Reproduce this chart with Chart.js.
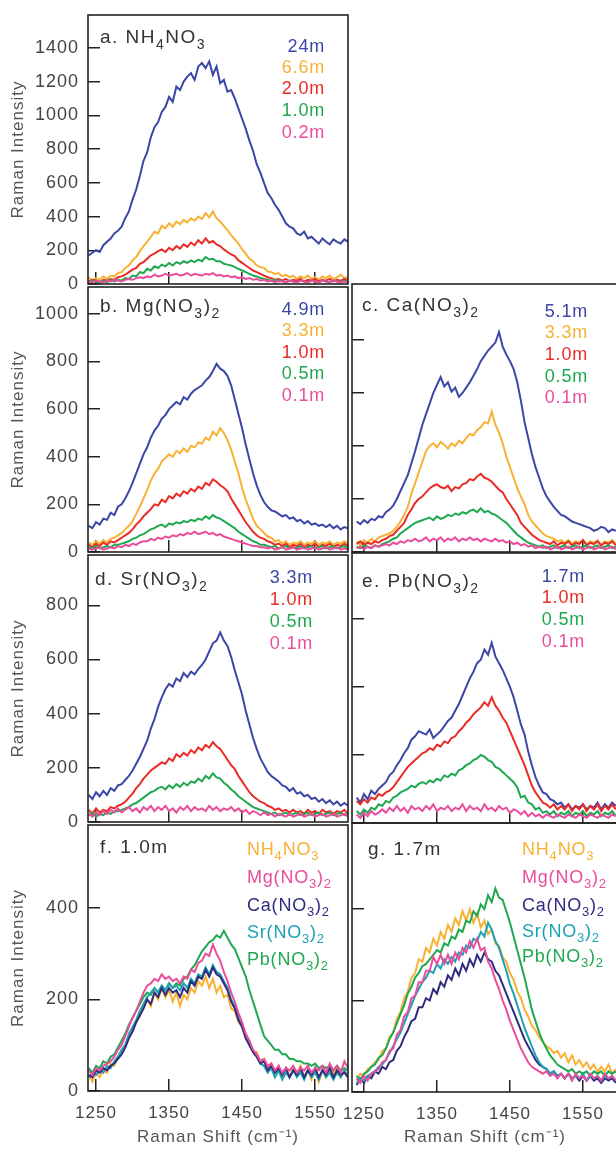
<!DOCTYPE html>
<html>
<head>
<meta charset="utf-8">
<title>Raman spectra of nitrate solutions</title>
<script src="https://cdn.jsdelivr.net/npm/chart.js@4.4.1/dist/chart.umd.min.js"></script>
<style>
  html, body { margin: 0; padding: 0; background: #fff; overflow: hidden; }
  body { width: 616px; height: 1149px; position: relative; }
  canvas { position: absolute; }
</style>
</head>
<body>
<script>
// Raman shift (cm-1) of every sample point
const shift = [1240,1245,1250,1255,1260,1265,1270,1275,1280,1285,1290,1295,1300,1305,1310,1315,1320,1325,1330,1335,
  1340,1345,1350,1355,1360,1365,1370,1375,1380,1385,1390,1395,1400,1405,1410,1415,1420,1425,1430,1435,
  1440,1445,1450,1455,1460,1465,1470,1475,1480,1485,1490,1495,1500,1505,1510,1515,1520,1525,1530,1535,
  1540,1545,1550,1555,1560,1565,1570,1575,1580,1585,1590,1595];

const xTicks = [1250, 1350, 1450, 1550];

// a. NH4NO3
const concA = ['24m', '6.6m', '2.0m', '1.0m', '0.2m'];
const nh4_24 = [170,185,200,190,230,250,270,300,315,340,390,430,500,560,640,730,780,870,930,960,
  1020,1050,1110,1080,1170,1150,1200,1230,1250,1210,1290,1310,1280,1320,1240,1290,1190,1210,1140,1150,
  1100,1040,980,920,850,790,710,660,600,540,510,470,440,400,360,340,330,300,290,310,
  270,280,260,240,270,250,235,265,250,240,265,250];
const nh4_66 = [40,20,35,25,45,30,50,45,65,70,95,110,140,160,195,225,250,280,310,300,
  345,330,360,340,370,355,380,365,390,375,400,385,420,395,430,390,370,345,320,290,
  265,240,205,180,150,135,110,100,95,75,70,60,65,45,55,40,50,30,45,35,
  50,30,40,25,45,35,50,30,40,55,35,40];
const nh4_20 = [15,25,20,10,25,20,30,25,40,45,55,70,85,95,120,130,150,170,180,195,
  205,190,215,200,225,210,235,220,245,230,260,240,270,245,255,235,225,205,190,175,
  165,140,125,110,95,80,70,60,50,40,35,25,30,20,30,15,25,20,30,15,
  25,20,30,15,25,20,30,15,25,20,30,20];
const nh4_10 = [10,20,15,5,20,10,25,15,25,20,35,30,50,45,70,65,90,80,105,95,
  115,105,125,110,130,120,135,125,140,130,145,135,160,145,150,135,135,120,115,110,
  100,90,80,70,60,50,45,35,30,25,20,25,15,20,10,20,15,10,20,15,
  10,20,15,10,20,15,10,20,15,10,20,15];
const nh4_02 = [15,10,20,15,10,20,15,25,20,15,25,30,25,35,40,35,45,40,55,45,
  50,60,50,55,60,50,55,65,50,60,55,50,60,55,65,50,55,45,50,40,
  45,35,40,30,35,25,30,20,25,15,20,10,20,15,10,20,15,10,20,15,
  10,20,15,10,20,15,10,20,15,10,15,10];

// b. Mg(NO3)2
const concB = ['4.9m', '3.3m', '1.0m', '0.5m', '0.1m'];
const mg_49 = [110,100,125,115,140,135,165,155,190,200,225,255,290,330,370,410,440,480,510,530,
  560,575,600,615,630,620,650,640,665,680,690,700,720,735,760,790,770,760,740,700,
  640,580,520,450,390,330,280,240,210,190,175,170,160,150,155,140,145,130,135,120,
  130,115,120,110,115,105,115,100,110,95,105,100];
const mg_33 = [40,30,45,35,50,40,55,60,70,80,95,110,130,160,190,225,260,300,330,350,
  380,395,410,400,425,415,435,420,445,440,460,455,480,470,505,490,520,500,470,430,
  380,330,270,220,180,140,110,95,80,65,60,45,50,35,45,30,40,35,45,30,
  40,35,45,30,40,35,45,30,40,35,45,35];
const mg_10 = [30,20,35,25,40,30,45,40,50,60,70,80,95,115,130,150,165,180,200,195,
  220,210,235,225,245,235,255,245,265,255,275,265,290,280,305,295,280,270,255,225,
  200,175,150,125,105,85,70,60,55,45,40,30,35,25,35,20,30,25,35,20,
  30,25,35,20,30,25,35,20,30,25,35,25];
const mg_05 = [20,15,25,15,20,25,20,30,30,35,40,45,55,60,70,75,85,95,100,110,
  115,105,120,115,125,120,130,125,135,130,140,135,150,140,155,145,140,130,120,110,
  100,85,75,65,55,45,40,30,30,25,20,25,15,20,25,15,20,15,25,15,
  20,25,15,20,25,15,20,25,15,20,25,15];
const mg_01 = [15,10,15,20,10,15,20,15,25,20,30,25,35,30,40,45,45,55,50,60,
  55,65,60,70,65,75,70,80,75,85,75,80,85,75,80,70,75,65,60,55,
  50,45,40,35,30,25,25,20,20,15,20,10,15,20,10,15,20,10,15,20,
  10,15,20,10,15,20,10,15,20,10,15,10];

// c. Ca(NO3)2
const concC = ['5.1m', '3.3m', '1.0m', '0.5m', '0.1m'];
const ca_51 = [115,105,120,110,125,120,135,130,150,160,175,200,230,260,290,335,380,430,480,520,
  560,600,630,660,625,640,605,620,585,600,620,640,665,690,720,740,760,775,790,830,
  775,745,720,690,640,570,490,430,370,320,280,240,210,190,170,155,140,135,125,115,
  110,105,100,95,90,80,85,95,90,75,85,80];
const ca_33 = [40,25,45,35,50,40,55,60,65,70,80,95,115,140,170,220,260,300,340,380,
  400,410,395,415,405,390,410,400,420,410,430,445,440,460,470,490,485,530,480,450,
  410,360,320,280,240,210,180,140,115,100,85,70,60,55,50,40,45,35,45,30,
  40,35,45,30,40,35,45,25,40,35,45,30];
const ca_10 = [30,40,25,35,30,40,35,45,50,60,65,80,95,110,140,160,185,200,210,225,
  240,250,255,245,240,250,230,245,240,255,260,275,270,285,295,280,275,265,250,235,
  225,200,180,160,140,110,95,80,65,55,45,40,35,30,40,25,35,30,40,25,
  35,30,45,25,35,30,40,25,35,30,40,25];
const ca_05 = [20,15,25,20,15,25,20,30,35,40,50,55,70,80,90,100,110,115,120,125,
  130,120,135,125,130,140,135,145,140,150,145,155,160,150,165,150,155,145,140,130,
  120,110,95,80,65,55,45,35,30,25,20,25,15,20,25,15,20,25,15,20,
  25,15,20,25,15,20,25,15,20,25,15,20];
const ca_01 = [15,20,10,20,15,25,20,25,30,25,35,30,40,35,45,40,50,40,45,55,
  40,50,45,55,40,50,45,55,40,50,45,55,45,50,40,50,45,40,50,40,
  45,35,40,30,35,25,30,20,25,15,20,15,20,10,15,20,10,15,20,10,
  15,20,10,15,20,10,15,20,10,15,20,10];

// d. Sr(NO3)2
const concD = ['3.3m', '1.0m', '0.5m', '0.1m'];
const sr_33 = [100,85,110,95,115,100,125,115,135,140,155,170,190,215,240,270,300,345,380,425,
  460,490,510,500,530,520,550,535,555,545,565,580,600,630,660,670,700,670,650,610,
  560,515,470,410,360,310,270,235,210,185,170,160,150,135,130,115,125,105,110,95,
  100,85,90,75,85,70,80,65,75,60,70,60];
const sr_10 = [45,30,50,35,45,40,55,50,60,65,75,90,105,125,140,160,175,190,200,210,
  220,215,235,225,250,240,255,245,265,255,275,265,285,275,295,280,270,250,230,210,
  195,170,150,130,110,95,85,75,70,60,55,45,50,40,45,35,45,35,40,30,
  45,35,40,30,45,35,40,30,40,35,45,30];
const sr_05 = [25,35,20,30,25,35,30,40,40,45,50,55,65,70,80,90,100,110,115,125,
  130,120,135,125,140,130,145,135,150,145,160,150,170,160,180,165,160,145,135,120,
  110,95,85,75,65,55,50,45,40,35,30,35,25,30,35,25,30,35,25,30,
  35,25,30,35,25,30,35,25,30,35,25,30];
const sr_01 = [30,20,35,25,40,30,45,35,50,35,45,55,40,50,35,55,45,60,40,55,
  45,60,40,50,35,55,45,60,40,55,45,50,40,60,45,55,40,50,45,55,
  40,50,35,45,30,40,35,25,35,25,30,20,30,25,20,30,20,25,30,20,
  25,30,20,25,30,20,25,30,20,25,30,20];

// e. Pb(NO3)2
const concE = ['1.7m', '1.0m', '0.5m', '0.1m'];
const pb_17 = [75,60,85,70,95,85,100,110,120,140,150,170,185,205,220,245,255,270,265,260,
  275,250,260,270,285,300,310,330,350,375,400,425,445,470,480,510,495,530,490,470,
  450,425,400,370,330,290,260,210,170,135,110,90,85,70,65,55,60,45,55,40,
  50,45,55,40,50,45,60,40,55,45,60,50];
const pb_10 = [65,55,70,60,75,70,85,80,90,95,105,120,135,150,165,175,185,195,205,210,
  220,215,230,225,240,235,250,255,270,280,295,305,320,330,340,355,345,370,345,330,
  310,295,270,245,220,195,170,140,110,90,75,60,55,45,55,40,50,40,55,35,
  50,40,55,35,50,40,55,35,50,40,55,40];
const pb_05 = [35,25,40,30,45,40,55,50,65,60,75,80,90,95,100,110,105,115,120,115,
  125,120,130,125,140,135,145,140,155,160,170,175,185,190,200,195,185,180,165,160,
  150,140,130,120,105,75,80,60,55,40,45,30,35,25,35,20,30,25,35,20,
  30,25,35,20,30,25,35,20,30,25,35,20];
const pb_01 = [25,15,30,20,35,25,30,40,30,45,35,50,35,45,30,50,40,45,35,50,
  40,55,35,45,40,50,35,45,40,55,35,50,40,45,35,55,40,45,35,50,
  40,45,30,40,35,25,35,20,30,20,25,15,25,20,15,25,20,15,25,20,
  15,25,20,15,25,20,15,25,20,15,25,20];

// f. 1.0m and g. 1.7m, all salts
const salts = ['NH_4NO_3', 'Mg(NO_3)_2', 'Ca(NO_3)_2', 'Sr(NO_3)_2', 'Pb(NO_3)_2'];
const f_nh4 = [35,20,40,30,45,40,60,55,75,85,100,120,135,150,165,185,200,185,215,200,
  225,205,220,195,215,185,210,200,225,215,240,230,250,225,245,215,230,205,210,180,
  175,150,140,115,110,85,85,65,70,50,60,40,55,35,50,30,50,35,55,30,
  45,25,50,20,45,30,55,35,50,30,45,35];
const f_mg = [45,35,50,45,55,60,65,75,90,100,120,140,160,175,195,215,230,235,245,240,
  255,245,250,240,245,235,250,245,265,260,280,285,300,295,320,300,285,260,240,215,
  195,170,150,125,110,90,80,65,70,55,60,45,55,40,50,45,55,40,50,45,
  55,40,50,45,55,40,60,45,55,40,65,50];
const f_ca = [35,30,45,40,50,45,55,60,70,80,95,115,130,150,165,180,200,190,215,205,
  225,210,225,215,220,205,225,215,240,230,250,245,265,250,270,255,250,235,220,195,
  180,155,140,115,100,85,75,60,65,45,55,40,50,35,50,30,45,35,50,30,
  45,35,50,30,45,35,50,30,45,35,40,30];
const f_sr = [30,40,35,45,40,55,50,65,75,90,100,125,140,155,175,190,205,215,225,215,
  230,220,235,225,230,220,235,225,245,235,255,250,270,255,275,260,255,240,225,200,
  185,160,140,120,105,85,75,60,55,40,50,30,45,25,40,30,45,30,40,25,
  45,30,40,25,45,30,40,25,40,30,45,30];
const f_pb = [50,40,55,50,65,60,75,80,95,110,125,145,160,175,190,205,215,210,225,215,
  230,220,235,225,235,230,245,250,265,275,290,305,315,325,330,340,335,350,335,320,
  310,290,270,250,220,195,170,145,120,110,100,90,90,80,80,70,70,65,65,60,
  60,55,60,50,55,50,55,45,55,45,50,45];
const g_nh4 = [25,40,35,50,55,65,70,90,95,120,130,160,175,205,220,250,260,290,285,315,
  305,335,320,350,335,365,350,380,365,395,375,400,370,390,360,375,345,355,325,320,
  295,285,260,245,220,205,180,165,145,135,120,110,100,95,85,90,75,85,65,80,
  60,70,55,65,50,60,45,55,45,60,40,50];
const g_mg = [30,20,35,25,40,45,50,65,70,90,95,125,135,165,175,205,210,240,240,265,
  265,295,280,300,280,300,280,305,290,315,305,330,315,335,310,315,285,270,245,225,
  200,180,155,135,115,95,80,65,55,50,45,40,45,35,40,30,40,30,40,25,
  40,30,35,25,40,30,35,25,40,30,35,25];
const g_ca = [15,30,20,35,30,45,40,55,50,65,70,90,100,120,135,155,160,185,185,205,
  200,225,215,240,230,255,245,270,255,280,265,290,275,300,285,305,290,285,265,255,
  235,215,195,175,155,135,115,100,85,70,60,55,50,40,45,35,40,30,40,30,
  35,25,35,25,35,25,30,20,30,25,30,20];
const g_sr = [20,30,25,35,40,45,55,60,70,85,100,115,130,150,170,190,210,225,240,250,
  265,260,280,270,290,280,295,285,305,300,320,315,335,330,350,340,370,355,330,315,
  290,265,235,215,190,165,140,120,100,80,65,55,50,40,45,35,40,30,40,30,
  35,30,40,25,35,30,35,25,35,30,35,25];
const g_pb = [35,25,40,45,55,60,75,80,95,115,130,150,170,190,215,230,250,260,275,280,
  290,300,310,305,325,320,340,335,355,350,375,370,395,385,410,400,430,415,445,425,
  420,395,370,340,310,280,250,215,180,155,130,110,95,80,70,60,55,50,45,50,
  40,45,40,45,35,45,40,45,35,45,40,45];

const blue = '#3b46a6', orange = '#f8b133', red = '#ea2b26', green = '#1fa84f',
      magenta = '#ea4d9b', navy = '#2f2c80', teal = '#1ca2b4';
const FONT = '"Liberation Sans", Arial, sans-serif';
Chart.defaults.font.family = FONT;

function drawRich(ctx, text, x, y, align, color, size, spacing) {
  ctx.letterSpacing = spacing + 'px';
  const parts = text.split(/(_\d)/).filter(t => t.length);
  const big = size + 'px ' + FONT;
  const small = Math.round(size * 0.72) + 'px ' + FONT;
  let total = 0;
  parts.forEach(t => {
    ctx.font = t[0] === '_' ? small : big;
    total += ctx.measureText(t[0] === '_' ? t.slice(1) : t).width;
  });
  let cx = align === 'right' ? x - total : x;
  ctx.fillStyle = color;
  ctx.textBaseline = 'middle';
  ctx.textAlign = 'left';
  parts.forEach(t => {
    const sub = t[0] === '_';
    const s = sub ? t.slice(1) : t;
    ctx.font = sub ? small : big;
    ctx.fillText(s, cx, sub ? y + size * 0.38 : y);
    cx += ctx.measureText(s).width;
  });
}

// frame round the plot + panel label + coloured legend text
const panelText = {
  id: 'panelText',
  beforeDraw(chart) {
    chart.ctx.letterSpacing = '1px';
  },
  afterDraw(chart, args, o) {
    const ctx = chart.ctx, a = chart.chartArea;
    ctx.save();
    ctx.strokeStyle = '#222';
    ctx.lineWidth = 1.6;
    ctx.strokeRect(a.left, a.top, a.right - a.left, a.bottom - a.top);
    drawRich(ctx, o.title, o.tx - o.left, o.ty - o.top, 'left', '#333', 19, 1.5);
    o.labels.forEach((lab, i) => {
      drawRich(ctx, lab, o.lx - o.left, o.ly[i] - o.top, o.lalign, o.colors[i], 18, 0.8);
    });
    ctx.restore();
  }
};

function noPad(s) {
  s.paddingTop = 0; s.paddingBottom = 0; s.paddingLeft = 0; s.paddingRight = 0;
}

function makePanel(p) {
  const cv = document.createElement('canvas');
  cv.width = p.w; cv.height = p.h;
  cv.style.left = p.left + 'px'; cv.style.top = p.top + 'px';
  cv.style.width = p.w + 'px'; cv.style.height = p.h + 'px';
  document.body.appendChild(cv);
  const right = p.left > 300;
  const datasets = p.series.map((s, i) => ({
    data: shift.map((x, k) => ({ x: x, y: s[k] })),
    borderColor: p.colors[i],
    borderWidth: 2,
    pointRadius: 0,
    tension: 0,
    fill: false,
    order: p.order[i]
  }));
  const tickGrid = { drawOnChartArea: false, drawTicks: true, tickLength: -12, color: '#222', lineWidth: 1.5 };
  new Chart(cv, {
    type: 'line',
    data: { datasets: datasets },
    options: {
      responsive: false,
      animation: false,
      devicePixelRatio: 1,
      layout: { padding: { top: 1, right: 2, left: 0, bottom: 0 } },
      plugins: {
        legend: { display: false },
        tooltip: { enabled: false },
        panelText: {
          left: p.left, top: p.top, title: p.title, tx: p.tx, ty: p.ty,
          labels: p.labels, colors: p.colors, lx: p.lx, ly: p.ly, lalign: p.lalign
        }
      },
      scales: {
        x: {
          type: 'linear',
          min: right ? 1233.6 : 1239,
          max: right ? 1598 : 1595,
          afterBuildTicks: s => { s.ticks = xTicks.map(v => ({ value: v })); },
          afterFit: s => { s.height = p.xh; noPad(s); },
          grid: tickGrid,
          border: { display: false },
          ticks: { display: p.xLabels, padding: 24, color: '#444', font: { size: 17 }, callback: v => String(v), autoSkip: false, maxRotation: 0 },
          title: { display: p.xLabels, text: 'Raman Shift (cm⁻¹)', color: '#555', font: { size: 17 }, padding: { top: 0, bottom: 1 } }
        },
        y: {
          min: 0,
          max: p.yMax,
          afterBuildTicks: s => { s.ticks = p.yTicks.map(v => ({ value: v })); },
          afterFit: s => { s.width = right ? 12 : 88; noPad(s); },
          grid: tickGrid,
          border: { display: false },
          ticks: { display: !right, padding: 21, color: '#444', font: { size: 18 }, callback: v => String(v) },
          title: { display: !right, text: 'Raman Intensity', color: '#555', font: { size: 17 }, padding: { top: 8, bottom: 0 } }
        }
      }
    },
    plugins: [panelText]
  });
}

const topDown5 = [4, 3, 2, 1, 0];
const topDown4 = [3, 2, 1, 0];

makePanel({ left: 0, top: 14, w: 350, h: 281, xh: 11, xLabels: false, yMax: 1595,
  yTicks: [0, 200, 400, 600, 800, 1000, 1200, 1400],
  series: [nh4_24, nh4_66, nh4_20, nh4_10, nh4_02], colors: [blue, orange, red, green, magenta], order: topDown5,
  title: 'a. NH_4NO_3', tx: 100, ty: 38, labels: concA, lx: 325, ly: [47, 68, 89, 111, 133], lalign: 'right' });

makePanel({ left: 0, top: 286, w: 350, h: 277, xh: 11, xLabels: false, yMax: 1113,
  yTicks: [0, 200, 400, 600, 800, 1000],
  series: [mg_49, mg_33, mg_10, mg_05, mg_01], colors: [blue, orange, red, green, magenta], order: topDown5,
  title: 'b. Mg(NO_3)_2', tx: 100, ty: 307, labels: concB, lx: 325, ly: [310, 331, 353, 374, 396], lalign: 'right' });

makePanel({ left: 340, top: 283, w: 280, h: 270, xh: 1, xLabels: false, yMax: 1011,
  yTicks: [0, 200, 400, 600, 800],
  series: [ca_51, ca_33, ca_10, ca_05, ca_01], colors: [blue, orange, red, green, magenta], order: topDown5,
  title: 'c. Ca(NO_3)_2', tx: 362, ty: 306, labels: concC, lx: 588, ly: [312, 333, 355, 377, 398], lalign: 'right' });

makePanel({ left: 0, top: 554, w: 350, h: 279, xh: 11, xLabels: false, yMax: 986,
  yTicks: [0, 200, 400, 600, 800],
  series: [sr_33, sr_10, sr_05, sr_01], colors: [blue, red, green, magenta], order: topDown4,
  title: 'd. Sr(NO_3)_2', tx: 95, ty: 580, labels: concD, lx: 313, ly: [578, 600, 622, 644], lalign: 'right' });

makePanel({ left: 340, top: 552, w: 280, h: 272, xh: 1, xLabels: false, yMax: 794,
  yTicks: [0, 200, 400, 600],
  series: [pb_17, pb_10, pb_05, pb_01], colors: [blue, red, green, magenta], order: topDown4,
  title: 'e. Pb(NO_3)_2', tx: 362, ty: 582, labels: concE, lx: 585, ly: [577, 598, 620, 642], lalign: 'right' });

makePanel({ left: 0, top: 824, w: 350, h: 325, xh: 58, xLabels: true, yMax: 581,
  yTicks: [0, 200, 400],
  series: [f_nh4, f_mg, f_ca, f_sr, f_pb], colors: [orange, magenta, navy, teal, green], order: [4, 0, 1, 2, 3],
  title: 'f. 1.0m', tx: 100, ty: 848, labels: salts, lx: 247, ly: [850, 878, 906, 933, 960], lalign: 'left' });

makePanel({ left: 340, top: 822, w: 280, h: 327, xh: 57, xLabels: true, yMax: 588,
  yTicks: [0, 200, 400],
  series: [g_nh4, g_mg, g_ca, g_sr, g_pb], colors: [orange, magenta, navy, teal, green], order: [4, 0, 2, 1, 3],
  title: 'g. 1.7m', tx: 368, ty: 850, labels: salts, lx: 522, ly: [850, 878, 906, 932, 957], lalign: 'left' });
</script>
</body>
</html>
